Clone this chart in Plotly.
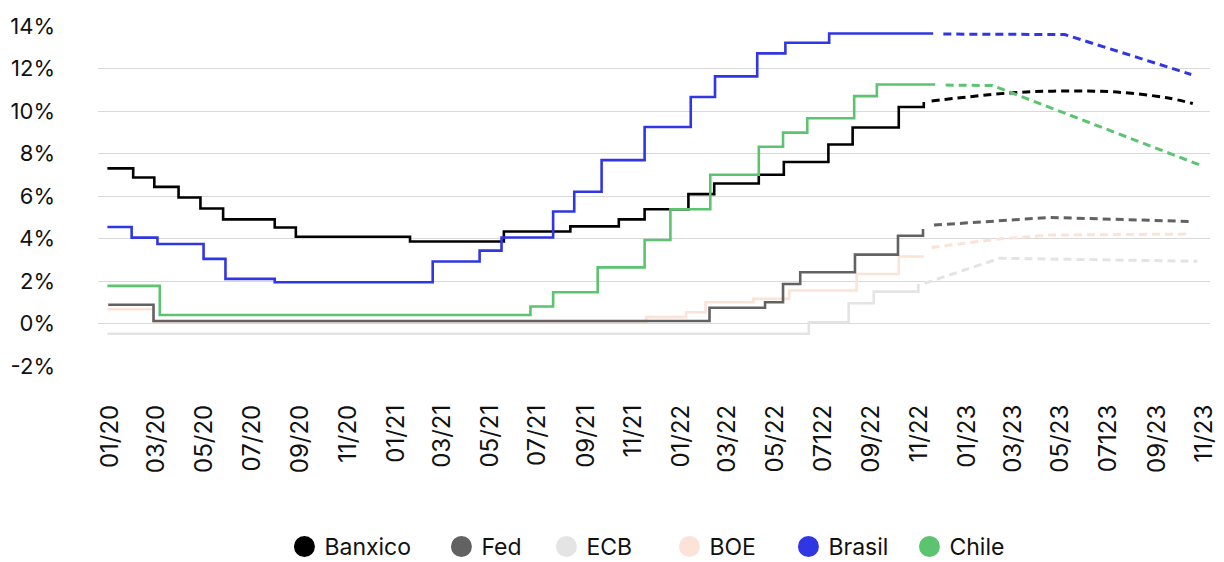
import plotly.graph_objects as go

# Policy rates (%) – observed history, step changes
banxico_dates = ["2019-12-29", "2020-01-31", "2020-02-27", "2020-03-29", "2020-04-26", "2020-05-25",
                 "2020-07-30", "2020-08-26", "2021-01-19", "2021-05-19", "2021-08-12", "2021-10-13",
                 "2021-11-15", "2022-01-10", "2022-02-12", "2022-04-10", "2022-05-12", "2022-07-08",
                 "2022-08-08", "2022-10-06", "2022-11-07"]
banxico_vals = [7.30, 6.87, 6.43, 5.93, 5.41, 4.90, 4.52, 4.08, 3.86, 4.33, 4.57, 4.90,
                5.38, 6.09, 6.59, 7.00, 7.60, 8.42, 9.22, 10.19, 10.42]

fed_dates = ["2019-12-30", "2020-02-26", "2022-02-06", "2022-04-18", "2022-05-11", "2022-06-02",
             "2022-08-11", "2022-10-05", "2022-11-06"]
fed_vals = [0.88, 0.12, 0.74, 1.00, 1.86, 2.41, 3.24, 4.13, 4.45]

ecb_dates = ["2019-12-29", "2022-06-13", "2022-08-03", "2022-09-04", "2022-10-31"]
ecb_vals = [-0.48, 0.06, 0.95, 1.50, 1.86]

boe_dates = ["2019-12-29", "2020-02-26", "2021-11-17", "2022-01-07", "2022-02-01", "2022-04-03",
             "2022-05-19", "2022-08-13", "2022-10-06", "2022-11-07"]
boe_vals = [0.67, 0.08, 0.30, 0.53, 1.00, 1.16, 1.55, 2.33, 3.15, 3.15]

brasil_dates = ["2019-12-29", "2020-01-29", "2020-03-02", "2020-04-30", "2020-05-28", "2020-07-30",
                "2021-02-17", "2021-04-18", "2021-05-16", "2021-07-21", "2021-08-17", "2021-09-21",
                "2021-11-15", "2022-01-13", "2022-02-13", "2022-04-08", "2022-05-14", "2022-07-09",
                "2022-11-19"]
brasil_vals = [4.54, 4.04, 3.74, 3.04, 2.10, 1.94, 2.92, 3.43, 4.05, 5.27, 6.20, 7.69,
               9.25, 10.66, 11.63, 12.71, 13.21, 13.65, 13.65]

chile_dates = ["2019-12-29", "2020-03-05", "2021-06-22", "2021-07-21", "2021-09-16", "2021-11-15",
               "2021-12-18", "2022-02-07", "2022-04-10", "2022-05-11", "2022-06-11", "2022-08-10",
               "2022-09-08", "2022-11-20"]
chile_vals = [1.77, 0.40, 0.80, 1.47, 2.64, 3.93, 5.38, 7.00, 8.32, 8.98, 9.66, 10.70,
              11.25, 11.30]

# Expected path (dashed)
banxico_fc_dates = ["2022-11-17", "2023-03-01", "2023-05-09", "2023-07-12", "2023-09-14", "2023-10-17"]
banxico_fc_vals = [10.47, 10.86, 10.94, 10.89, 10.62, 10.35]

fed_fc_dates = ["2022-11-20", "2023-04-17", "2023-10-17"]
fed_fc_vals = [4.63, 4.99, 4.80]

ecb_fc_dates = ["2022-11-08", "2023-02-12", "2023-10-23"]
ecb_fc_vals = [1.89, 3.07, 2.93]

boe_fc_dates = ["2022-11-17", "2023-02-12", "2023-04-17", "2023-10-13"]
boe_fc_vals = [3.58, 3.98, 4.16, 4.21]

brasil_fc_dates = ["2022-12-02", "2023-05-06", "2023-10-15"]
brasil_fc_vals = [13.62, 13.60, 11.72]

chile_fc_dates = ["2022-12-05", "2023-02-03", "2023-10-26"]
chile_fc_vals = [11.22, 11.20, 7.46]

# Axis ticks
tick_dates = ["2020-01-01", "2020-03-01", "2020-05-01", "2020-07-01", "2020-09-01", "2020-11-01",
              "2021-01-01", "2021-03-01", "2021-05-01", "2021-07-01", "2021-09-01", "2021-11-01",
              "2022-01-01", "2022-03-01", "2022-05-01", "2022-07-01", "2022-09-01", "2022-11-01",
              "2023-01-01", "2023-03-01", "2023-05-01", "2023-07-01", "2023-09-01", "2023-11-01"]
tick_labels = ["01/20", "03/20", "05/20", "07/20", "09/20", "11/20",
               "01/21", "03/21", "05/21", "07/21", "09/21", "11/21",
               "01/22", "03/22", "05/22", "07122", "09/22", "11/22",
               "01/23", "03/23", "05/23", "07123", "09/23", "11/23"]
y_ticks = [-2, 0, 2, 4, 6, 8, 10, 12, 14]
y_labels = ["-2%", "0%", "2%", "4%", "6%", "8%", "10%", "12%", "14%"]

colors = {
    "Banxico": "#000000",
    "Fed": "#626262",
    "ECB": "#e4e4e4",
    "BOE": "#fbe3d8",
    "Brasil": "#3037e2",
    "Chile": "#5cc470",
}

series = {
    "Banxico": (banxico_dates, banxico_vals, banxico_fc_dates, banxico_fc_vals, "spline"),
    "Fed": (fed_dates, fed_vals, fed_fc_dates, fed_fc_vals, "linear"),
    "ECB": (ecb_dates, ecb_vals, ecb_fc_dates, ecb_fc_vals, "linear"),
    "BOE": (boe_dates, boe_vals, boe_fc_dates, boe_fc_vals, "linear"),
    "Brasil": (brasil_dates, brasil_vals, brasil_fc_dates, brasil_fc_vals, "linear"),
    "Chile": (chile_dates, chile_vals, chile_fc_dates, chile_fc_vals, "linear"),
}

draw_order = ["ECB", "BOE", "Fed", "Banxico", "Brasil", "Chile"]
legend_order = ["Banxico", "Fed", "ECB", "BOE", "Brasil", "Chile"]
# width reserved for each legend entry's label (px)
legend_widths = {"Banxico": 112, "Fed": 60, "ECB": 78, "BOE": 74, "Brasil": 76, "Chile": 58}

fig = go.Figure()

for name in draw_order:
    d, v, fd, fv, fshape = series[name]
    fig.add_trace(go.Scatter(
        x=d, y=v, mode="lines", line=dict(color=colors[name], width=2.6, shape="hv"),
        showlegend=False, hoverinfo="skip"))
    fig.add_trace(go.Scatter(
        x=fd, y=fv, mode="lines",
        line=dict(color=colors[name], width=3, dash="8px,5px", shape=fshape, smoothing=1.0),
        showlegend=False, hoverinfo="skip"))

# Legend entries as filled circles
for name in legend_order:
    fig.add_trace(go.Scatter(
        x=[None], y=[None], mode="markers", name=name, legendwidth=legend_widths[name],
        marker=dict(symbol="circle", size=16, color=colors[name],
                    line=dict(color=colors[name], width=5))))

font_family = "Inter, 'Liberation Sans', Arial, sans-serif"

fig.update_layout(
    width=1224, height=562,
    margin=dict(l=98, r=14, t=26, b=196, autoexpand=False),
    paper_bgcolor="white", plot_bgcolor="white",
    font=dict(family=font_family, size=21, color="#111111"),
    showlegend=True,
    legend=dict(orientation="h", x=0.495, xanchor="center", y=-0.531, yanchor="middle",
                font=dict(size=23, color="#111111"), itemwidth=30, tracegroupgap=0,
                bgcolor="rgba(0,0,0,0)"),
    xaxis=dict(
        type="date", range=["2019-12-17", "2023-11-08"],
        tickmode="array", tickvals=tick_dates, ticktext=tick_labels,
        tickangle=-90, tickfont=dict(size=24, color="#111111"),
        showgrid=False, zeroline=False, showline=False, ticks="",
        ticklabelstandoff=33,
    ),
    yaxis=dict(
        range=[-2, 14], tickmode="array", tickvals=y_ticks, ticktext=y_labels,
        tickfont=dict(size=22, color="#111111"),
        showgrid=True, gridcolor="#d9d9d9", gridwidth=1.4,
        zeroline=False, showline=False, ticks="",
        ticklabelstandoff=42,
    ),
)

fig.write_html("out.html")
